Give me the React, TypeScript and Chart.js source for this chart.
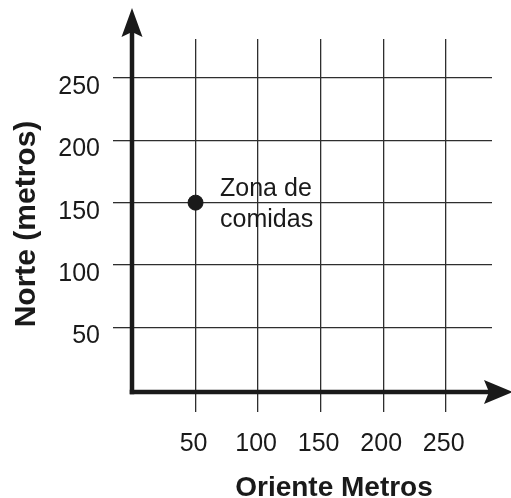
import React, { useEffect, useRef } from "react";
import { Chart, registerables } from "chart.js";
Chart.register(...registerables);

// ---- data ----
const xTickValues = [50, 100, 150, 200, 250];
const yTickValues = [50, 100, 150, 200, 250];
const pointX = [50];
const pointY = [150];
const pointLabels = [["Zona de", "comidas"]];
const xTitle = "Oriente Metros";
const yTitle = "Norte (metros)";
const xMin = 0;
const xMax = 287;
const yMin = 0;
const yMax = 281;

const FONT = '"Liberation Sans", Arial, sans-serif';
const INK = "#1a1a1a";
const GRID = "#2e2e2e";

function arrowHead(ctx: CanvasRenderingContext2D, tipX: number, tipY: number, dx: number, dy: number, len: number, half: number, notch: number) {
  const bx = tipX - dx * len;
  const by = tipY - dy * len;
  const px = -dy;
  const py = dx;
  const nx = tipX - dx * (len - notch);
  const ny = tipY - dy * (len - notch);
  ctx.beginPath();
  ctx.moveTo(tipX, tipY);
  ctx.lineTo(bx + px * half, by + py * half);
  ctx.lineTo(nx, ny);
  ctx.lineTo(bx - px * half, by - py * half);
  ctx.closePath();
  ctx.fill();
}

const decorPlugin = {
  id: "decor",
  afterDatasetsDraw(chart: any) {
    const ctx: CanvasRenderingContext2D = chart.ctx;
    const area = chart.chartArea;
    const xs = chart.scales.x;
    const ys = chart.scales.y;
    ctx.save();
    ctx.fillStyle = INK;
    ctx.strokeStyle = INK;
    ctx.lineWidth = 4.5;
    const axX = area.left - 1;
    const axY = area.bottom + 2;
    const yTip = 8;
    const xTip = 513;
    const headLen = 29;
    const notch = 5;
    // y axis
    ctx.beginPath();
    ctx.moveTo(axX, axY + 2.25);
    ctx.lineTo(axX, yTip + headLen - notch);
    ctx.stroke();
    arrowHead(ctx, axX, yTip, 0, -1, headLen, 10.5, notch);
    // x axis
    ctx.beginPath();
    ctx.moveTo(axX - 2.25, axY);
    ctx.lineTo(xTip - headLen + notch, axY);
    ctx.stroke();
    arrowHead(ctx, xTip, axY, 1, 0, headLen, 12, notch);

    // point labels
    ctx.font = `25px ${FONT}`;
    ctx.textAlign = "left";
    ctx.textBaseline = "alphabetic";
    pointLabels.forEach((lines, i) => {
      const px = xs.getPixelForValue(pointX[i]);
      const py = ys.getPixelForValue(pointY[i]);
      lines.forEach((t, j) => {
        ctx.fillText(t, px + 24.5, py - 7 + j * 31.5);
      });
    });

    // axis titles
    ctx.textAlign = "center";
    ctx.textBaseline = "alphabetic";
    ctx.font = `bold 28px ${FONT}`;
    ctx.fillText(xTitle, 334, 496);
    ctx.font = `bold 30px ${FONT}`;
    ctx.translate(35, 224);
    ctx.rotate(-Math.PI / 2);
    ctx.fillText(yTitle, 0, 0);
    ctx.restore();
  },
};

export default function App() {
  const ref = useRef<HTMLCanvasElement>(null);
  useEffect(() => {
    if (!ref.current) return;
    const chart = new Chart(ref.current, {
      type: "scatter",
      data: {
        datasets: [
          {
            data: pointX.map((x, i) => ({ x, y: pointY[i] })),
            backgroundColor: INK,
            borderColor: INK,
            pointRadius: 7.5,
            pointHoverRadius: 7.5,
          },
        ],
      },
      options: {
        responsive: false,
        animation: false,
        devicePixelRatio: 1,
        layout: { padding: { top: 39, right: 19, left: 0, bottom: 0 } },
        plugins: { legend: { display: false }, tooltip: { enabled: false } },
        scales: {
          x: {
            type: "linear",
            min: xMin,
            max: xMax,
            afterBuildTicks: (s: any) => {
              s.ticks = xTickValues.map((v) => ({ value: v }));
            },
            afterFit: (s: any) => {
              s.height = 108;
            },
            border: { display: false },
            grid: { color: GRID, tickColor: GRID, lineWidth: 1.3, tickLength: 22, drawTicks: true },
            ticks: {
              font: { family: FONT, size: 25 },
              color: INK,
              padding: 17,
              labelOffset: -2,
              maxRotation: 0,
              autoSkip: false,
            },
          },
          y: {
            type: "linear",
            min: yMin,
            max: yMax,
            afterBuildTicks: (s: any) => {
              s.ticks = yTickValues.map((v) => ({ value: v }));
            },
            afterFit: (s: any) => {
              s.width = 133;
            },
            border: { display: false },
            grid: { color: GRID, tickColor: GRID, lineWidth: 1.3, tickLength: 20, drawTicks: true },
            ticks: {
              font: { family: FONT, size: 25 },
              color: INK,
              padding: 13,
              labelOffset: 9,
              autoSkip: false,
            },
          },
        },
      },
      plugins: [decorPlugin],
    });
    return () => chart.destroy();
  }, []);
  return (
    <div style={{ position: "absolute", left: 0, top: 0, width: 511, height: 498, background: "#fff" }}>
      <canvas ref={ref} width={511} height={498} style={{ display: "block", width: 511, height: 498 }} />
    </div>
  );
}
